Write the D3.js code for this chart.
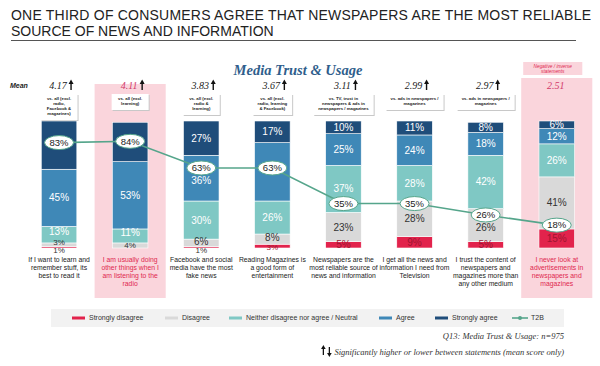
<!DOCTYPE html>
<html><head><meta charset="utf-8">
<script src="https://cdn.jsdelivr.net/npm/d3@7"></script>
<style>body{margin:0;background:#fff}svg{display:block}</style>
</head><body><svg id="c" width="600" height="366"></svg>
<script>
// ---------------- DATA ----------------
const categories = [
  ["If I want to learn and", "remember stuff, its", "best to read it"],
  ["I am usually doing", "other things when I", "am listening to the", "radio"],
  ["Facebook and social", "media have the most", "fake news"],
  ["Reading Magazines is", "a good form of", "entertainment"],
  ["Newspapers are the", "most reliable source of", "news and information"],
  ["I get all the news and", "information I need from", "Television"],
  ["I trust the content of", "newspapers and", "magazines more than", "any other medium"],
  ["I never look at", "advertisements in", "newspapers and", "magazines"]
];
const stronglyDisagree = [1, 0, 1, 3, 5, 9, 5, 15];
const disagree         = [3, 4, 6, 8, 23, 28, 26, 41];
const neutral          = [13, 11, 30, 26, 37, 28, 42, 26];
const agree            = [45, 53, 36, 46, 25, 24, 18, 12];
const stronglyAgree    = [38, 31, 27, 17, 10, 11, 8, 6];
const t2b              = [83, 84, 63, 63, 35, 35, 26, 18];
const means            = ["4.17", "4.11", "3.83", "3.67", "3.11", "2.99", "2.97", "2.51"];
const significantUp    = [true, true, true, true, true, true, true, false];
const negativeStatement= [false, true, false, false, false, false, false, true];
const notes = [
  ["vs. all (excl.", "radio,", "Facebook &", "magazines)"],
  ["vs. all (excl.", "learning)"],
  ["vs. all (excl.", "radio &", "learning)"],
  ["vs. all (excl.", "radio, learning", "& Facebook)"],
  ["vs. TV, trust in", "newspapers & ads in", "newspapers / magazines"],
  ["vs. ads in newspapers /", "magazines"],
  ["vs. ads in newspapers /", "magazines"],
  []
];
const seriesNames = ["Strongly disagree", "Disagree", "Neither disagree nor agree / Neutral", "Agree", "Strongly agree"];
const title1 = "ONE THIRD OF CONSUMERS AGREE THAT NEWSPAPERS ARE THE MOST RELIABLE";
const title2 = "SOURCE OF NEWS AND INFORMATION";

// ---------------- STYLE ----------------
const SANS = "'Liberation Sans', Arial, sans-serif";
const SERIF = "'Liberation Serif', 'Times New Roman', serif";
const colors = ["#e2234c", "#d9d9d9", "#7fc8c4", "#3f88b7", "#1f4d7a"];
const labelColors = ["#9e1530", "#333", "#fff", "#fff", "#fff"];
const green = "#55a58b";
const pink = "#fad5dc";
const red = "#e0284f";

const svg = d3.select("#c");
const keys = ["SD", "D", "N", "A", "SA"];
const table = categories.map((c, i) => ({
  idx: i, SD: stronglyDisagree[i], D: disagree[i], N: neutral[i], A: agree[i], SA: stronglyAgree[i]
}));
const idxs = categories.map((c, i) => i);

const x = d3.scalePoint().domain(idxs).range([23.5, 592.3]).padding(0.5);
const step = x.step();
const bw = step * 0.5;
const y = d3.scaleLinear().domain([0, 100]).range([248, 121]);

// title
svg.append("text").attr("x", 11).attr("y", 20).attr("textLength", 580).attr("lengthAdjust", "spacing")
  .style("font", `14px ${SANS}`).attr("fill", "#222").text(title1);
svg.append("text").attr("x", 11).attr("y", 36)
  .style("font", `14px ${SANS}`).attr("fill", "#222").text(title2);
svg.append("line").attr("x1", 11).attr("x2", 576).attr("y1", 40.5).attr("y2", 40.5)
  .attr("stroke", "#555").attr("stroke-width", 1);

// pink highlight columns
idxs.filter(i => negativeStatement[i]).forEach(i => {
  const top = i === 1 ? 84 : 78;
  svg.append("rect").attr("x", x(i) - step / 2).attr("y", top).attr("width", step).attr("height", 298 - top).attr("fill", pink);
  if (i === categories.length - 1) {
    svg.append("rect").attr("x", x(i) - step / 2 + 2).attr("y", 62).attr("width", step - 12).attr("height", 13).attr("fill", pink);
    const t = svg.append("text").attr("text-anchor", "middle").style("font", `italic 4.8px ${SANS}`).attr("fill", red);
    t.append("tspan").attr("x", x(i) - 4).attr("y", 67.5).text("Negative / inverse");
    t.append("tspan").attr("x", x(i) - 4).attr("y", 73).text("statements");
  }
});

svg.append("text").attr("x", 298).attr("y", 75).attr("text-anchor", "middle")
  .style("font", `bold italic 14.5px ${SERIF}`).attr("fill", "#2f5e8c").text("Media Trust & Usage");

// mean row
svg.append("text").attr("x", 10).attr("y", 88).style("font", `bold italic 7px ${SANS}`).attr("fill", "#222").text("Mean");
idxs.forEach(i => {
  const neg = negativeStatement[i];
  svg.append("text").attr("x", x(i) - 1).attr("y", 89).attr("text-anchor", "middle")
    .style("font", `italic 10px ${SERIF}`).attr("fill", neg ? "#d2386a" : "#222").text(means[i]);
  if (significantUp[i]) {
    const ax = x(i) + 12;
    svg.append("line").attr("x1", ax).attr("x2", ax).attr("y1", 83).attr("y2", 90).attr("stroke", "#111").attr("stroke-width", 1.4);
    svg.append("path").attr("d", `M${ax - 2.5},${84} L${ax},${79.5} L${ax + 2.5},${84} Z`).attr("fill", "#111");
  }
});

// note boxes
idxs.forEach(i => {
  const lines = notes[i];
  if (!lines.length) return;
  const g = svg.append("g");
  const h = lines.length * 5 + 6;
  const shadow = g.append("rect").attr("fill", "#c8c8c8");
  const box = g.append("rect").attr("fill", "#fff");
  const t = g.append("text").attr("text-anchor", "middle").style("font", `bold 4.3px ${SANS}`).attr("fill", "#222");
  lines.forEach((l, k) => t.append("tspan").attr("x", x(i)).attr("y", 94 + 6 + k * 5).text(l));
  let w = 0;
  t.selectAll("tspan").each(function () { w = Math.max(w, this.getComputedTextLength()); });
  w = Math.max(w + 10, 37);
  box.attr("x", x(i) - w / 2).attr("y", 94).attr("width", w).attr("height", h);
  shadow.attr("x", x(i) - w / 2 + 1).attr("y", 95).attr("width", w).attr("height", h);
});

// stacked bars
const stack = d3.stack().keys(keys)(table);
const barG = svg.append("g");
stack.forEach((s, si) => {
  barG.selectAll(null).data(s).join("rect")
    .attr("x", d => x(d.data.idx) - bw / 2)
    .attr("width", bw)
    .attr("y", d => y(d[1]))
    .attr("height", d => Math.max(0, y(d[0]) - y(d[1])))
    .attr("fill", colors[si])
    .attr("stroke", "#fff").attr("stroke-width", 0.6);
});

// segment labels (those fully under a T2B ellipse are hidden, as in the source)
function labelY(d, key) {
  const v = d.data[key];
  if (key === "SD" && v <= 1) return y(0) + 2.5;
  let cy = (y(d[0]) + y(d[1])) / 2;
  if (key === "D" && v < 10 && d.data.SD > 0) cy -= (v < 5 ? 2.8 : 1.5);
  if (key === "SD" && v < 5) cy += 1;
  if (key === "N" && d[0] < 6) cy -= 3;
  const ey = y(t2b[d.data.idx]);
  const diff = cy - ey;
  if (Math.abs(diff) < 13 && Math.abs(diff) >= 7) cy = ey + (diff > 0 ? 13 : -13);
  return cy;
}
function hidden(d, key) {
  const cy = (y(d[0]) + y(d[1])) / 2;
  return Math.abs(cy - y(t2b[d.data.idx])) < 7;
}
stack.forEach((s, si) => {
  barG.selectAll(null).data(s.filter(d => d.data[s.key] > 0 && !hidden(d, s.key))).join("text")
    .attr("x", d => x(d.data.idx))
    .attr("y", d => labelY(d, s.key))
    .attr("dy", "0.35em").attr("text-anchor", "middle")
    .style("font", d => `${d.data[s.key] < 5 ? 8 : 10}px ${SANS}`)
    .attr("fill", d => (s.key === "SD" && d.data[s.key] <= 1) ? "#333" : labelColors[si])
    .text(d => d.data[s.key] + "%");
});

// T2B line
const line = d3.line().x(i => x(i)).y(i => y(t2b[i]));
svg.append("path").attr("d", line(idxs)).attr("fill", "none").attr("stroke", green).attr("stroke-width", 1.6);
const pts = svg.selectAll(null).data(idxs).join("g").attr("transform", i => `translate(${x(i)},${y(t2b[i])})`);
pts.append("ellipse").attr("rx", 14.5).attr("ry", 7).attr("fill", "#fff").attr("stroke", green).attr("stroke-width", 1);
pts.append("text").attr("text-anchor", "middle").attr("dy", "0.35em").style("font", `9.5px ${SANS}`).attr("fill", "#222")
  .text(i => t2b[i] + "%");

// category labels
idxs.forEach(i => {
  const t = svg.append("text").attr("text-anchor", "middle").style("font", `6.8px ${SANS}`)
    .attr("fill", negativeStatement[i] ? red : "#222");
  categories[i].forEach((l, k) => t.append("tspan").attr("x", x(i)).attr("y", 261.5 + k * 8).text(l));
});

// legend
svg.append("rect").attr("x", 51).attr("y", 309).attr("width", 513).attr("height", 18).attr("fill", "#f2f2f2");
const legendX = [72, 165, 229, 379, 435];
seriesNames.forEach((n, k) => {
  svg.append("rect").attr("x", legendX[k]).attr("y", 316.5).attr("width", 13).attr("height", 3).attr("fill", colors[k]);
  svg.append("text").attr("x", legendX[k] + 17).attr("y", 318).attr("dy", "0.35em").style("font", `7px ${SANS}`).attr("fill", "#333").text(n);
});
svg.append("line").attr("x1", 512).attr("x2", 528).attr("y1", 318).attr("y2", 318).attr("stroke", green).attr("stroke-width", 1.6);
svg.append("circle").attr("cx", 520).attr("cy", 318).attr("r", 2).attr("fill", green);
svg.append("text").attr("x", 531).attr("y", 318).attr("dy", "0.35em").style("font", `7px ${SANS}`).attr("fill", "#333").text("T2B");

// footnotes
svg.append("text").attr("x", 564).attr("y", 339).attr("text-anchor", "end").style("font", `italic 8.5px ${SERIF}`).attr("fill", "#333")
  .text("Q13: Media Trust & Usage: n=975");
const fn2 = svg.append("text").attr("x", 564).attr("y", 355).attr("text-anchor", "end").style("font", `italic 8.5px ${SERIF}`).attr("fill", "#333")
  .text("Significantly higher or lower between statements (mean score only)");
const fnStart = 564 - fn2.node().getComputedTextLength();
[[fnStart - 11, true], [fnStart - 5, false]].forEach(([ax, up]) => {
  svg.append("line").attr("x1", ax).attr("x2", ax).attr("y1", 347).attr("y2", 355).attr("stroke", "#111").attr("stroke-width", 1.3);
  const p = up ? `M${ax - 2.3},${349} L${ax},${345} L${ax + 2.3},${349} Z` : `M${ax - 2.3},${353} L${ax},${357} L${ax + 2.3},${353} Z`;
  svg.append("path").attr("d", p).attr("fill", "#111");
});
</script>
</body></html>
